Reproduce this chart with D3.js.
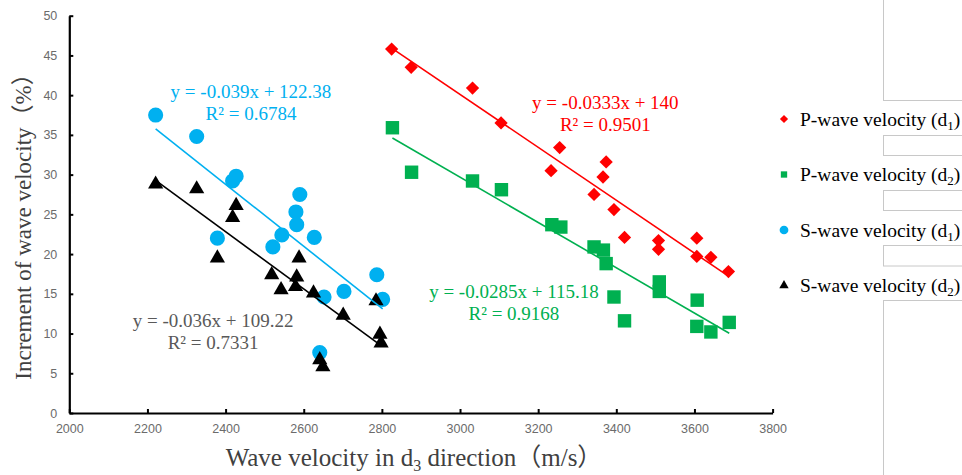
<!DOCTYPE html>
<html>
<head>
<meta charset="utf-8">
<script src="https://cdn.jsdelivr.net/npm/d3@7"></script>
<style>
  body { margin: 0; background: #fff; }
  svg { display: block; }
</style>
</head>
<body>
<div id="chart"></div>
<script>
// Data
var pd1X = [2825, 2875, 3032, 3105, 3233, 3255, 3343, 3366, 3374, 3394, 3421, 3508, 3508, 3606, 3606, 3642, 3687];
var pd1Y = [45.8, 43.5, 40.9, 36.5, 30.5, 33.4, 27.5, 29.7, 31.6, 25.6, 22.1, 21.7, 20.6, 22.0, 19.7, 19.6, 17.8];

var pd2X = [2827, 2876, 3032, 3106, 3235, 3258, 3343, 3367, 3374, 3394, 3421, 3510, 3510, 3607, 3606, 3642, 3689];
var pd2Y = [35.9, 30.3, 29.2, 28.1, 23.7, 23.4, 20.9, 20.5, 18.8, 14.6, 11.6, 16.5, 15.3, 14.2, 10.9, 10.2, 11.4];

var sd1X = [2221, 2326, 2379, 2418, 2427, 2521, 2544, 2580, 2582, 2590, 2627, 2641, 2652, 2703, 2787, 2802];
var sd1Y = [37.5, 34.8, 22.0, 29.2, 29.8, 20.9, 22.4, 25.3, 23.7, 27.5, 22.1, 7.6, 14.6, 15.3, 17.4, 14.3];

var sd2X = [2221, 2326, 2379, 2418, 2427, 2518, 2542, 2579, 2582, 2588, 2625, 2641, 2649, 2701, 2785, 2795, 2798];
var sd2Y = [28.8, 28.2, 19.5, 24.6, 26.1, 17.4, 15.5, 15.9, 17.1, 19.5, 15.1, 6.7, 5.8, 12.3, 14.1, 9.9, 8.8];

// trend line coefficients as printed on the chart
var slopes = [-0.0333, -0.0285, -0.039, -0.036];
var intercepts = [140, 115.18, 122.38, 109.22];
var r2s = ["0.9501", "0.9168", "0.6784", "0.7331"];

var seriesNames = ["P-wave velocity (d", "P-wave velocity (d", "S-wave velocity (d", "S-wave velocity (d"];
var seriesSubs = ["1", "2", "1", "2"];

var xTicks = [2000, 2200, 2400, 2600, 2800, 3000, 3200, 3400, 3600, 3800];
var yTicks = [0, 5, 10, 15, 20, 25, 30, 35, 40, 45, 50];

var width = 962;
var height = 475;

var colors = ["#ff0000", "#00b050", "#00b0f0", "#000000"];
var eqColors = ["#ff0000", "#00b050", "#00b0f0", "#595959"];
// diamond = square turned 45 degrees
var symbols = [d3.symbolSquare, d3.symbolSquare, d3.symbolCircle, d3.symbolTriangle];
var rotations = [45, 0, 0, 0];
var symSizes = [88, 180, 180, 100];
var serif = "'Times New Roman', 'Liberation Serif', 'Noto Sans CJK SC', serif";

var x = d3.scaleLinear().domain([2000, 3800]).range([69.3, 772.6]);
var y = d3.scaleLinear().domain([0, 50]).range([413, 15.7]);

var svg = d3.select("#chart")
    .append("svg")
    .attr("width", width)
    .attr("height", height);

// grey outline boxes behind the legend (left over from the spreadsheet)
var boxes = [[-2, 100.5], [135.5, 155.5], [190.5, 210.5], [245.5, 266], [300.5, 480]];
svg.selectAll("rect.bg")
    .data(boxes)
    .enter()
    .append("rect")
    .attr("class", "bg")
    .attr("x", 883.5)
    .attr("y", function (d) { return d[0]; })
    .attr("width", 100)
    .attr("height", function (d) { return d[1] - d[0]; })
    .attr("fill", "none")
    .attr("stroke", "#c8c8c8")
    .attr("stroke-width", 1);

// axes
var xAxis = svg.append("g")
    .attr("transform", "translate(0," + y(0) + ")")
    .call(d3.axisBottom(x).tickValues(xTicks).tickFormat(d3.format("d"))
        .tickSizeInner(-4).tickSizeOuter(0).tickPadding(11));
var yAxis = svg.append("g")
    .attr("transform", "translate(" + x(2000) + ",0)")
    .call(d3.axisLeft(y).tickValues(yTicks).tickSizeInner(-4).tickSizeOuter(0).tickPadding(12));

[xAxis, yAxis].forEach(function (g) {
    g.select(".domain").attr("stroke", "#000").attr("stroke-width", 2.2);
    g.selectAll(".tick line").attr("stroke", "#000").attr("stroke-width", 2);
    g.selectAll(".tick text")
        .attr("fill", "#6b6b6b")
        .style("font-family", "'Liberation Sans', Arial, sans-serif")
        .style("font-size", "12.5px");
});

// series markers first, trend lines on top
var allX = [pd1X, pd2X, sd1X, sd2X];
var allY = [pd1Y, pd2Y, sd1Y, sd2Y];

allX.forEach(function (xs, i) {
    var pts = xs.map(function (v, j) { return { x: v, y: allY[i][j] }; });
    svg.selectAll("path.s" + i)
        .data(pts)
        .enter()
        .append("path")
        .attr("class", "s" + i)
        .attr("d", d3.symbol().type(symbols[i]).size(symSizes[i]))
        .attr("transform", function (d) {
            return "translate(" + x(d.x) + "," + y(d.y) + ") rotate(" + rotations[i] + ")";
        })
        .attr("fill", colors[i]);
});

allX.forEach(function (xs, i) {
    var x0 = d3.min(xs), x1 = d3.max(xs);
    svg.append("line")
        .attr("x1", x(x0))
        .attr("y1", y(slopes[i] * x0 + intercepts[i]))
        .attr("x2", x(x1))
        .attr("y2", y(slopes[i] * x1 + intercepts[i]))
        .attr("stroke", colors[i])
        .attr("stroke-width", 1.6);
});

// equation labels (centre x, baseline y in data units)
var eqPos = [[3372, 38.3], [3138, 14.5], [2465, 39.6], [2368, 10.8]];
eqPos.forEach(function (p, i) {
    var s = slopes[i] + "x + " + intercepts[i];
    var t = svg.append("text")
        .attr("text-anchor", "middle")
        .attr("fill", eqColors[i])
        .style("font-family", serif)
        .style("font-size", "19px");
    t.append("tspan")
        .attr("x", x(p[0]))
        .attr("y", y(p[1]))
        .text("y = " + s);
    t.append("tspan")
        .attr("x", x(p[0]))
        .attr("y", y(p[1]) + 22)
        .text("R\u00b2 = " + r2s[i]);
});

// legend
var legendSym = [34, 40, 60, 38];
seriesNames.forEach(function (name, i) {
    var ly = 119 + i * 55.5;
    svg.append("path")
        .attr("d", d3.symbol().type(symbols[i]).size(legendSym[i]))
        .attr("transform", "translate(784," + ly + ") rotate(" + rotations[i] + ")")
        .attr("fill", colors[i]);
    var t = svg.append("text")
        .attr("x", 800)
        .attr("y", ly + 6.5)
        .attr("fill", "#000")
        .style("font-family", serif)
        .style("font-size", "19.5px");
    t.append("tspan").text(name);
    t.append("tspan").attr("dy", 4).style("font-size", "13px").text(seriesSubs[i]);
    t.append("tspan").attr("dy", -4).text(")");
});

// axis titles
var xt = svg.append("text")
    .attr("x", 414)
    .attr("y", 466)
    .attr("text-anchor", "middle")
    .attr("fill", "#404040")
    .style("font-family", serif)
    .style("font-size", "25px");
xt.append("tspan").text("Wave velocity  in d");
xt.append("tspan").attr("dy", 5).style("font-size", "16px").text("3");
xt.append("tspan").attr("dy", -5).text(" direction\uff08m/s\uff09");

svg.append("text")
    .attr("transform", "translate(31,221) rotate(-90)")
    .attr("text-anchor", "middle")
    .attr("fill", "#404040")
    .style("font-family", serif)
    .style("font-size", "23px")
    .text("Increment of wave velocity\uff08%\uff09");
</script>
</body>
</html>
